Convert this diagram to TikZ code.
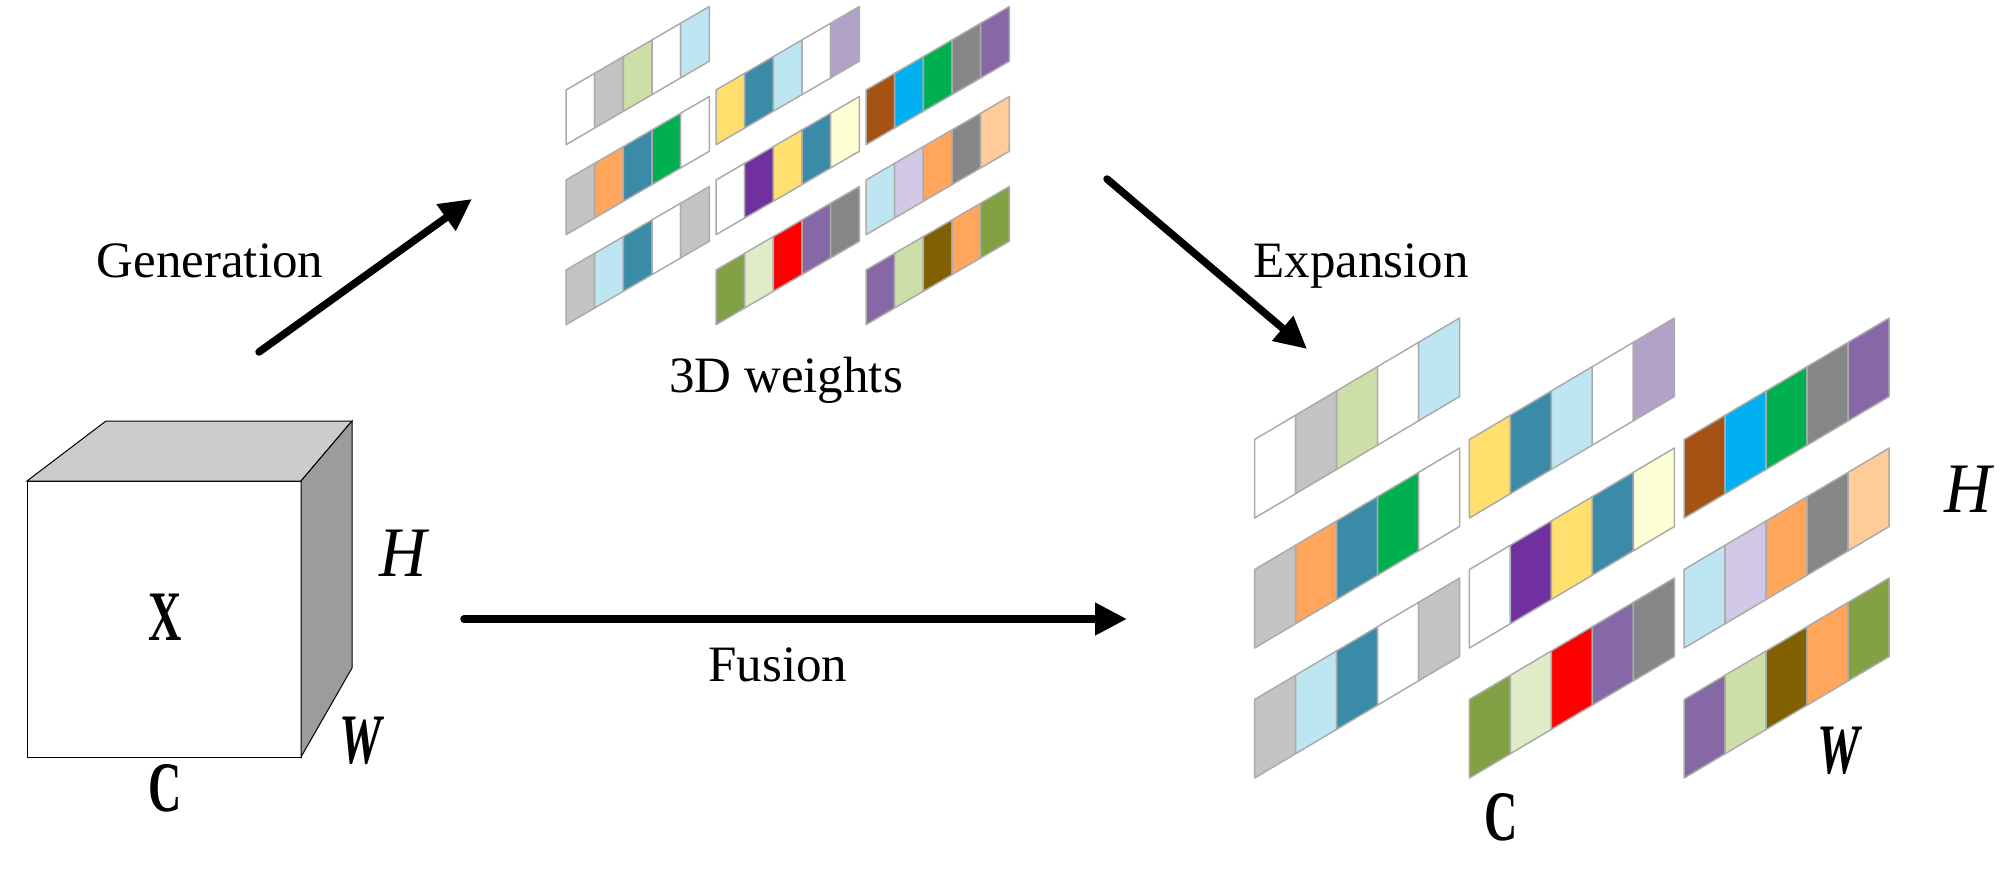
\documentclass[tikz,border=0pt]{standalone}
\usepackage{fontspec}
\setmainfont{Liberation Serif}
\usetikzlibrary{arrows.meta}
\definecolor{wh}{HTML}{FFFFFF}
\definecolor{gr}{HTML}{C3C3C3}
\definecolor{dg}{HTML}{868686}
\definecolor{lg}{HTML}{CDDFA8}
\definecolor{lb}{HTML}{BEE5F2}
\definecolor{ye}{HTML}{FFE06E}
\definecolor{te}{HTML}{3A8BA8}
\definecolor{lp}{HTML}{B2A2C8}
\definecolor{br}{HTML}{A65212}
\definecolor{bl}{HTML}{00B0F0}
\definecolor{gn}{HTML}{00B050}
\definecolor{pu}{HTML}{8668A6}
\definecolor{or}{HTML}{FFA65C}
\definecolor{vi}{HTML}{7030A0}
\definecolor{ly}{HTML}{FFFFD5}
\definecolor{lv}{HTML}{D0C8E4}
\definecolor{pe}{HTML}{FFCC99}
\definecolor{ol}{HTML}{82A044}
\definecolor{pg}{HTML}{E0ECC8}
\definecolor{re}{HTML}{FF0000}
\definecolor{um}{HTML}{806000}
\definecolor{edgegray}{HTML}{ABABAB}
\tikzset{
  cell/.style={draw=edgegray,line width=1.5pt,line join=round},
  caption/.style={font=\fontsize{51}{60}\selectfont,inner sep=0pt,anchor=base},
  dimtext/.style={font=\fontsize{71}{80}\selectfont\bfseries,inner sep=0pt,xscale=.65,transform shape},
  dimital/.style={font=\fontsize{71}{80}\selectfont\itshape,inner sep=0pt,xscale=.92,transform shape},
  dimwide/.style={font=\fontsize{71}{80}\selectfont\bfseries\itshape,inner sep=0pt,xscale=.67,transform shape},
  bigarrow/.style={line width=7.5pt,line cap=round,-{Triangle[length=32pt,width=31pt]}}
}
\newcommand{\weightgrid}[7]{
  \foreach \c/\r/\fills in {
    0/0/{wh,gr,lg,wh,lb},1/0/{ye,te,lb,wh,lp},2/0/{br,bl,gn,dg,pu},
    0/1/{gr,or,te,gn,wh},1/1/{wh,vi,ye,te,ly},2/1/{lb,lv,or,dg,pe},
    0/2/{gr,lb,te,wh,gr},1/2/{ol,pg,re,pu,dg},2/2/{pu,lg,um,or,ol}}{
    \pgfmathsetmacro{\gx}{#1+\c*#3}
    \pgfmathsetmacro{\gy}{#2+\r*#4}
    \begin{scope}[shift={(\gx,\gy)},x={(#5pt,#6pt)},y={(0pt,#7pt)}]
      \foreach \f [count=\i from 0] in \fills
        \draw[cell,fill=\f] (\i,0) -- (\i+1,0) -- (\i+1,1) -- (\i,1) -- cycle;
    \end{scope}
  }
}
\begin{document}
\begin{tikzpicture}[x=1pt,y=-1pt]
\useasboundingbox (0,0) rectangle (2000,869);
\draw[fill=white,line width=1pt] (27,481) rectangle (301,757);
\draw[fill=gray!40,line width=1pt] (27,481) -- (106,421) -- (352,421) -- (301,481) -- cycle;
\draw[fill=gray!78,line width=1pt] (301,481) -- (352,421) -- (352,668) -- (301,757) -- cycle;
\node[dimtext] (cubex) at (165,617) {X};
\node[dimtext] (cubec) at (165,788) {C};
\node[dimital] (cubeh) at (403,553) {H};
\node[dimwide] (cubew) at (361,741) {W};
\weightgrid{566}{144.7}{150}{90}{28.67}{16.7}{54.7}
\weightgrid{1254.6}{518}{214.8}{130}{41}{24.3}{78.5}
\node[caption] (weights) at (786,392) {3D weights};
\node[caption] (gen) at (210,277) {Generation};
\node[caption] (exp) at (1361,277) {Expansion};
\node[caption] (fus) at (778,681) {Fusion};
\node[dimital] (gridh) at (1968,489) {H};
\node[dimwide] (gridw) at (1839,751) {W};
\node[dimtext] (gridc) at (1501,817) {C};
\coordinate (gena) at (259,352);
\coordinate (genb) at (472,199);
\coordinate (expa) at (1107,179);
\coordinate (expb) at (1307,349);
\coordinate (fusa) at (464,619);
\coordinate (fusb) at (1127,619);
\draw[bigarrow] (gena) -- (genb);
\draw[bigarrow] (expa) -- (expb);
\draw[bigarrow] (fusa) -- (fusb);
\end{tikzpicture}
\end{document}
